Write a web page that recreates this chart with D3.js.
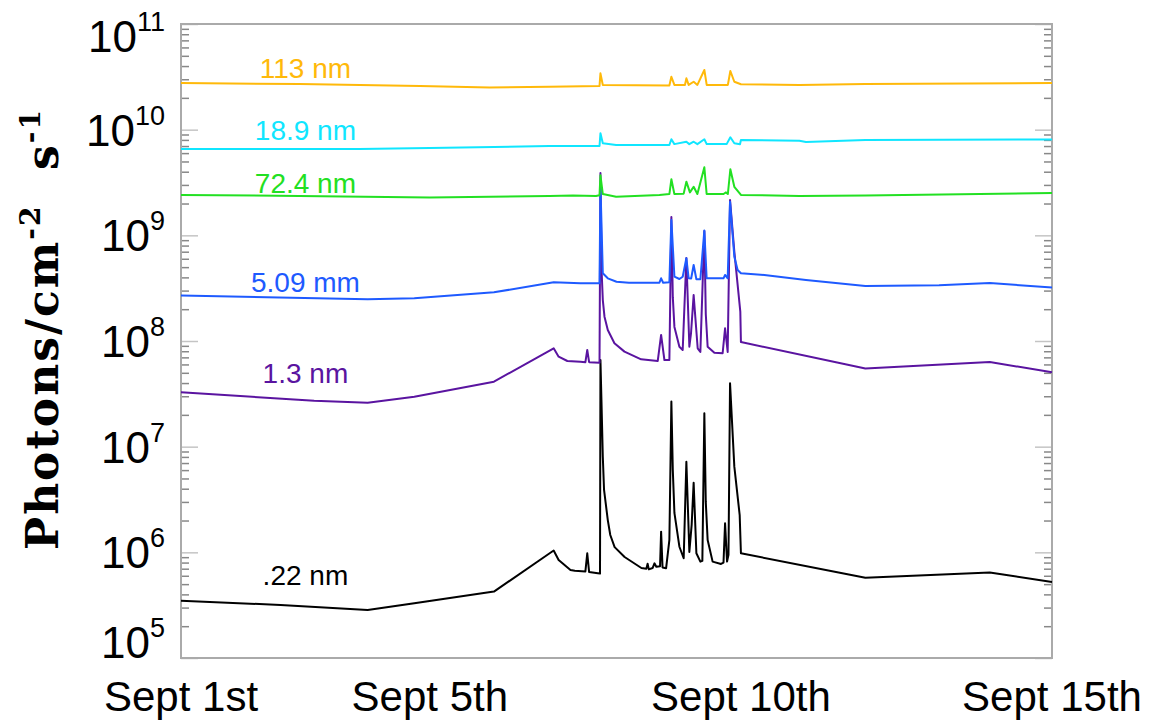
<!DOCTYPE html>
<html>
<head>
<meta charset="utf-8">
<style>
  body { margin: 0; background: #fff; }
  .line { fill: none; stroke-width: 2; stroke-linejoin: round; }
  .frame { fill: none; stroke: #aaa; stroke-width: 2; }
  .axis path { display: none; }
  .minor line { stroke: #888; stroke-width: 1.5; }
  .major line { stroke: #c4c4c4; stroke-width: 1.5; }
  .ticklab { font-family: "Liberation Sans", Arial, sans-serif; fill: #000; }
  .serlab { font-family: "Liberation Sans", Arial, sans-serif; font-size: 28px; text-anchor: middle; }
  .ylab { font-family: "DejaVu Serif", serif; font-weight: bold; font-size: 44px; letter-spacing: 2px; }
</style>
</head>
<body>
<svg width="1175" height="724"></svg>
<script src="https://d3js.org/d3.v7.min.js"></script>
<script>
// [day of September, photons cm^-2 s^-1]
var nm022 = [
  [1.0, 3.48e5], [2.6, 3.18e5], [4.0, 2.85e5], [4.75, 3.30e5], [6.03, 4.25e5],
  [6.99, 1.04e6], [7.07, 8.47e5], [7.26, 6.81e5], [7.33, 6.70e5], [7.50, 6.6e5],
  [7.53, 9.79e5], [7.56, 6.5e5], [7.70, 6.34e5], [7.735, 6.3e5], [7.742, 6.61e7],
  [7.758, 2.77e7], [7.78, 7.98e6], [7.80, 3.89e6], [7.86, 2.02e6], [7.90, 1.46e6],
  [7.97, 1.12e6], [8.13, 9.04e5], [8.40, 7.11e5],
  [8.48, 7.0e5], [8.50, 7.8e5], [8.52, 6.9e5], [8.58, 7.1e5], [8.61, 7.87e5],
  [8.64, 7.3e5], [8.70, 7.4e5], [8.717, 1.57e6], [8.74, 7.2e5], [8.797, 7.06e5],
  [8.85, 1.31e6], [8.882, 2.67e7], [8.905, 6.0e6], [8.931, 2.36e6], [9.011, 1.13e6], [9.08, 8.79e5],
  [9.123, 7.21e6], [9.171, 1.01e6], [9.208, 1.82e6], [9.24, 4.56e6], [9.284, 9.79e5],
  [9.348, 8.17e5], [9.38, 8.3e5], [9.412, 2.07e7], [9.435, 3.0e6], [9.465, 1.31e6], [9.545, 8.17e5],
  [9.68, 7.76e5], [9.72, 8.0e5], [9.745, 1.88e6], [9.777, 8.17e5], [9.80, 9.5e5],
  [9.825, 3.98e7], [9.894, 6.47e6], [9.98, 2.25e6], [10.0, 9.79e5], [12.0, 5.75e5],
  [14.0, 6.43e5], [15.0, 5.25e5]
];
var nm13 = [
  [1.0, 3.27e7], [3.14, 2.72e7], [4.0, 2.61e7], [4.75, 2.97e7], [6.03, 4.12e7],
  [6.99, 8.53e7], [7.07, 7.11e7], [7.21, 6.47e7], [7.42, 6.37e7], [7.50, 6.3e7],
  [7.53, 8.22e7], [7.56, 6.3e7], [7.727, 6.24e7], [7.742, 3.89e9], [7.76, 4.7e8],
  [7.78, 2.44e8], [7.807, 1.70e8], [7.86, 1.27e8], [7.967, 9.51e7], [8.128, 7.93e7], [8.396, 6.71e7],
  [8.663, 6.47e7], [8.717, 1.14e8], [8.77, 6.61e7], [8.85, 6.61e7], [8.882, 1.49e9],
  [8.905, 2.6e8], [8.931, 1.36e8], [9.011, 8.83e7], [9.064, 8.22e7], [9.123, 6.11e8], [9.171, 8.83e7],
  [9.198, 1.19e8], [9.24, 2.72e8], [9.305, 8.53e7], [9.348, 7.87e7], [9.412, 1.10e9],
  [9.435, 1.8e8], [9.465, 8.83e7], [9.573, 7.74e7], [9.706, 7.66e7], [9.745, 1.32e8], [9.787, 7.87e7],
  [9.825, 2.16e9], [9.894, 7.0e8], [9.99, 1.9e8], [10.0, 9.79e7], [12.0, 5.48e7],
  [14.0, 6.33e7], [15.0, 5.06e7]
];
var mm509 = [
  [1.0, 2.69e8], [4.0, 2.48e8], [4.75, 2.54e8], [6.03, 2.89e8], [6.99, 3.59e8],
  [7.42, 3.52e8], [7.727, 3.52e8], [7.742, 3.0e9], [7.78, 4.37e8], [7.86, 3.92e8],
  [8.0, 3.64e8], [8.2, 3.56e8], [8.69, 3.56e8], [8.717, 3.92e8], [8.75, 3.56e8],
  [8.85, 3.6e8], [8.882, 1.40e9], [8.931, 4.06e8], [9.011, 3.86e8], [9.064, 4.06e8],
  [9.123, 6.07e8], [9.16, 3.92e8], [9.20, 3.9e8], [9.24, 5.24e8], [9.284, 3.84e8],
  [9.348, 3.84e8], [9.412, 1.11e9], [9.449, 3.92e8], [9.72, 3.92e8], [9.745, 4.22e8],
  [9.787, 3.92e8], [9.825, 2.08e9], [9.894, 6.28e8], [9.947, 4.70e8], [10.0, 4.37e8],
  [10.376, 4.22e8], [11.045, 3.78e8], [12.0, 3.32e8], [13.185, 3.37e8], [14.0, 3.54e8],
  [15.0, 3.20e8]
];
var nm724 = [
  [1.0, 2.41e9], [2.9, 2.36e9], [5.0, 2.28e9], [6.92, 2.36e9], [7.3, 2.38e9],
  [7.67, 2.36e9], [7.727, 2.4e9], [7.742, 3.7e9], [7.78, 2.46e9], [7.994, 2.32e9],
  [8.69, 2.41e9], [8.85, 2.46e9], [8.882, 3.39e9], [8.93, 2.46e9], [9.08, 2.48e9],
  [9.123, 3.22e9], [9.18, 2.55e9], [9.24, 2.88e9], [9.30, 2.46e9], [9.412, 4.40e9],
  [9.449, 2.46e9], [9.72, 2.46e9], [9.76, 2.55e9], [9.79, 2.46e9], [9.83, 4.22e9],
  [9.894, 2.88e9], [10.0, 2.41e9], [10.94, 2.36e9], [12.0, 2.38e9], [15.0, 2.52e9]
];
var nm189 = [
  [1.0, 6.56e9], [3.87, 6.56e9], [5.0, 6.71e9], [6.92, 7.0e9], [7.727, 7.0e9],
  [7.742, 9.25e9], [7.78, 7.43e9], [7.994, 7.16e9], [8.85, 7.16e9], [8.882, 8.11e9],
  [8.93, 7.3e9], [9.123, 7.69e9], [9.17, 7.3e9], [9.24, 7.69e9], [9.30, 7.3e9],
  [9.412, 8.11e9], [9.45, 7.3e9], [9.77, 7.3e9], [9.83, 8.47e9], [9.894, 7.43e9],
  [9.985, 7.27e9], [10.0, 7.98e9], [10.94, 7.86e9], [11.045, 7.64e9], [12.0, 7.98e9],
  [15.0, 8.07e9]
];
var nm113 = [
  [1.0, 2.77e10], [2.91, 2.70e10], [4.84, 2.59e10], [5.96, 2.51e10], [6.92, 2.55e10],
  [7.727, 2.59e10], [7.742, 3.41e10], [7.78, 2.65e10], [8.85, 2.62e10], [8.882, 3.17e10],
  [8.93, 2.65e10], [9.10, 2.65e10], [9.123, 3.06e10], [9.16, 2.65e10], [9.24, 2.84e10],
  [9.30, 2.65e10], [9.412, 3.67e10], [9.45, 2.65e10], [9.79, 2.65e10], [9.83, 3.59e10],
  [9.894, 2.84e10], [10.0, 2.69e10], [10.94, 2.65e10], [12.0, 2.70e10], [15.0, 2.77e10]
];

var seriesData = [nm022, nm13, mm509, nm724, nm189, nm113];
var seriesNames = [".22 nm", "1.3 nm", "5.09 mm", "72.4 nm", "18.9 nm", "113 nm"];
var seriesColors = ["#000000", "#5a14a0", "#1e5aff", "#22e022", "#10e6ff", "#ffb90a"];
// where each name sits, in data units
var labelDay = 3.0;
var labelValues = [4.9e5, 4.0e7, 2.93e8, 2.52e9, 7.98e9, 3.08e10];

var xTickDays = [1, 5, 10, 15];
var xTickLabels = ["Sept 1st", "Sept 5th", "Sept 10th", "Sept 15th"];
var yExponents = [5, 6, 7, 8, 9, 10, 11];

var margin = {top: 24, right: 123, bottom: 66, left: 181},
    width = 1175 - margin.left - margin.right,
    height = 724 - margin.top - margin.bottom;

var x = d3.scaleLinear().domain([1, 15]).range([0, width]);
var y = d3.scaleLog().domain([1e5, 1e11]).range([height, 0]);

var svg = d3.select("svg")
  .append("g")
  .attr("transform", "translate(" + margin.left + "," + margin.top + ")");

// ticks, both sides, pointing inward
var majors = yExponents.map(function(e) { return Math.pow(10, e); });
var minors = [];
yExponents.slice(0, -1).forEach(function(e) {
  for (var k = 2; k <= 9; k++) minors.push(k * Math.pow(10, e));
});

svg.append("g").attr("class", "axis minor")
  .call(d3.axisLeft(y).tickValues(minors).tickSize(-8).tickFormat(""));
svg.append("g").attr("class", "axis minor")
  .attr("transform", "translate(" + width + ",0)")
  .call(d3.axisRight(y).tickValues(minors).tickSize(-8).tickFormat(""));
svg.append("g").attr("class", "axis major")
  .call(d3.axisLeft(y).tickValues(majors).tickSize(-17).tickFormat(""));
svg.append("g").attr("class", "axis major")
  .attr("transform", "translate(" + width + ",0)")
  .call(d3.axisRight(y).tickValues(majors).tickSize(-17).tickFormat(""));

svg.append("rect").attr("class", "frame")
  .attr("x", 0).attr("y", 0).attr("width", width).attr("height", height);

// lines
var line = d3.line()
  .x(function(d) { return x(d[0]); })
  .y(function(d) { return y(d[1]); });

seriesData.forEach(function(s, i) {
  svg.append("path")
    .attr("class", "line")
    .attr("stroke", seriesColors[i])
    .attr("d", line(s));
});

// series names
svg.selectAll(".serlab")
  .data(seriesNames)
  .enter().append("text")
  .attr("class", "serlab")
  .attr("x", x(labelDay))
  .attr("y", function(d, i) { return y(labelValues[i]); })
  .attr("fill", function(d, i) { return seriesColors[i]; })
  .text(function(d) { return d; });

// y tick labels 10^n
var ylabs = svg.selectAll(".ylabel")
  .data(yExponents)
  .enter().append("text")
  .attr("class", "ticklab")
  .attr("text-anchor", "end")
  .attr("x", -16)
  .attr("y", function(e) {
    var b = y(Math.pow(10, e)) + 16;
    return Math.max(28, Math.min(height, b));
  });
ylabs.append("tspan").attr("font-size", 44).text("10");
ylabs.append("tspan").attr("font-size", 27).attr("dy", -21)
  .text(function(e) { return e; });

// x tick labels
svg.selectAll(".xlabel")
  .data(xTickDays)
  .enter().append("text")
  .attr("class", "ticklab")
  .attr("text-anchor", "middle")
  .attr("font-size", 42)
  .attr("x", function(d) { return x(d); })
  .attr("y", height + 53)
  .text(function(d, i) { return xTickLabels[i]; });

// y axis title
var yt = d3.select("svg").append("text")
  .attr("class", "ylab")
  .attr("text-anchor", "middle")
  .attr("transform", "translate(58," + (margin.top + 305) + ") rotate(-90)");
yt.append("tspan").text("Photons/cm");
yt.append("tspan").attr("font-size", 28).attr("dy", -18).text("-2");
yt.append("tspan").attr("dy", 18).text("\u00a0\u00a0s");
yt.append("tspan").attr("font-size", 28).attr("dy", -18).text("-1");
</script>
</body>
</html>
